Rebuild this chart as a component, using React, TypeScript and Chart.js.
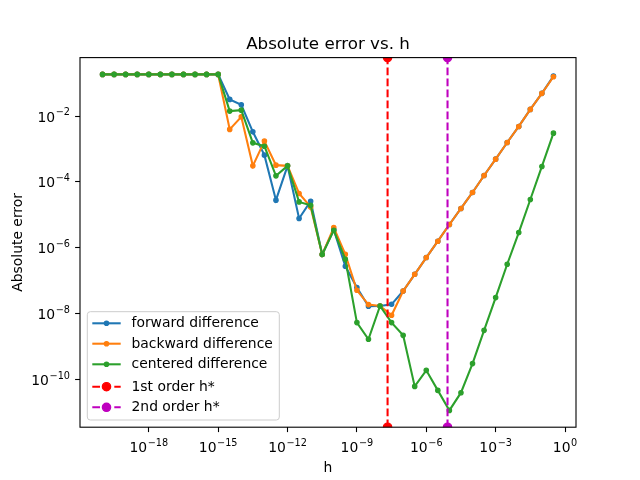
import { useEffect, useRef } from 'react';
import { Chart, registerables } from 'chart.js';

Chart.register(...registerables);

// step sizes h = 10^-20 ... 10^-0.5
const H = [
  1e-20, 3.16e-20, 1e-19, 3.16e-19, 1e-18, 3.16e-18, 1e-17, 3.16e-17, 1e-16, 3.16e-16,
  1e-15, 3.16e-15, 1e-14, 3.16e-14, 1e-13, 3.16e-13, 1e-12, 3.16e-12, 1e-11, 3.16e-11,
  1e-10, 3.16e-10, 1e-9, 3.16e-9, 1e-8, 3.16e-8, 1e-7, 3.16e-7, 1e-6, 3.16e-6,
  1e-5, 3.16e-5, 1e-4, 3.16e-4, 1e-3, 3.16e-3, 1e-2, 3.16e-2, 1e-1, 3.16e-1,
];

const FORWARD = [
  0.185, 0.185, 0.185, 0.185, 0.185, 0.185, 0.185, 0.185, 0.185, 0.185,
  0.185, 3.22e-2, 2.21e-2, 3.33e-3, 6.52e-4, 2.79e-5, 3.08e-4, 7.73e-6, 2.59e-5, 6.21e-7,
  3.55e-6, 2.74e-7, 6.15e-8, 1.66e-8, 1.70e-8, 1.91e-8, 4.85e-8, 1.56e-7, 5.04e-7, 1.58e-6,
  5.08e-6, 1.56e-5, 4.78e-5, 1.57e-4, 4.92e-4, 1.58e-3, 4.86e-3, 1.60e-2, 4.91e-2, 0.165,
];

const BACKWARD = [
  0.185, 0.185, 0.185, 0.185, 0.185, 0.185, 0.185, 0.185, 0.185, 0.185,
  0.185, 3.94e-3, 9.53e-3, 3.08e-4, 1.74e-3, 3.24e-4, 3.08e-4, 4.46e-5, 1.74e-5, 6.21e-7,
  4.11e-6, 6.34e-7, 5.09e-8, 1.87e-8, 1.70e-8, 8.85e-9, 4.85e-8, 1.56e-7, 5.04e-7, 1.58e-6,
  5.08e-6, 1.56e-5, 4.78e-5, 1.57e-4, 4.92e-4, 1.58e-3, 4.86e-3, 1.60e-2, 4.91e-2, 0.157,
];

const CENTERED = [
  0.185, 0.185, 0.185, 0.185, 0.185, 0.185, 0.185, 0.185, 0.185, 0.185,
  0.185, 1.42e-2, 1.52e-2, 1.54e-3, 1.22e-3, 1.53e-4, 3.08e-4, 2.47e-5, 1.96e-5, 6.21e-7,
  3.40e-6, 4.47e-7, 5.31e-9, 1.65e-9, 1.70e-8, 5.31e-9, 2.18e-9, 6.12e-11, 1.88e-10, 4.63e-11,
  1.14e-11, 3.94e-11, 3.01e-10, 3.09e-9, 3.05e-8, 3.15e-7, 2.90e-6, 2.92e-5, 2.95e-4, 3.04e-3,
];

const H_STAR_1 = 2.12e-8;
const H_STAR_2 = 8.3e-6;

const X_MIN = 1.06e-21;
const X_MAX = 2.985;
const Y_MIN = 3.52e-12;
const Y_MAX = 0.6;

const X_TICK_EXP = [-18, -15, -12, -9, -6, -3, 0];
const Y_TICK_EXP = [-2, -4, -6, -8, -10];

const LABELS = [
  'forward difference',
  'backward difference',
  'centered difference',
  '1st order h*',
  '2nd order h*',
];
const COLORS = ['#1f77b4', '#ff7f0e', '#2ca02c', '#ff0000', '#bf00bf'];

const FONT = '"DejaVu Sans", sans-serif';

function expText(e: number): string {
  return e < 0 ? '\u2212' + String(-e) : String(e);
}

function drawPow(ctx: CanvasRenderingContext2D, e: number, x: number, y: number, align: 'center' | 'right') {
  const baseFont = `13.9px ${FONT}`;
  const supFont = `9.7px ${FONT}`;
  const ex = expText(e);
  ctx.font = baseFont;
  const wb = ctx.measureText('10').width;
  ctx.font = supFont;
  const we = ctx.measureText(ex).width;
  const total = wb + we + 0.6;
  const x0 = align === 'center' ? x - total / 2 : x - total;
  ctx.textAlign = 'left';
  ctx.textBaseline = 'alphabetic';
  ctx.font = baseFont;
  ctx.fillText('10', x0, y);
  ctx.font = supFont;
  ctx.fillText(ex, x0 + wb + 0.6, y - 6.3);
}

const decorPlugin = {
  id: 'decor',
  afterDraw(chart: any) {
    const ctx: CanvasRenderingContext2D = chart.ctx;
    const area = chart.chartArea;
    const xs = chart.scales.x;
    const ys = chart.scales.y;
    ctx.save();
    // frame
    ctx.strokeStyle = '#000';
    ctx.lineWidth = 1.1;
    ctx.strokeRect(area.left, area.top, area.right - area.left, area.bottom - area.top);
    ctx.fillStyle = '#000';
    // x tick labels
    X_TICK_EXP.forEach((e) => {
      const px = xs.getPixelForValue(Math.pow(10, e));
      drawPow(ctx, e, px, area.bottom + 25, 'center');
    });
    // y tick labels
    Y_TICK_EXP.forEach((e) => {
      const py = ys.getPixelForValue(Math.pow(10, e));
      drawPow(ctx, e, area.left - 10, py + 5.5, 'right');
    });
    // axis labels
    ctx.font = `13.9px ${FONT}`;
    ctx.textAlign = 'center';
    ctx.textBaseline = 'alphabetic';
    ctx.fillText('h', (area.left + area.right) / 2, 472);
    ctx.save();
    ctx.translate(22, (area.top + area.bottom) / 2);
    ctx.rotate(-Math.PI / 2);
    ctx.fillText('Absolute error', 0, 0);
    ctx.restore();
    // title
    ctx.font = `16.7px ${FONT}`;
    ctx.fillText('Absolute error vs. h', (area.left + area.right) / 2, 49.3);

    // legend
    const lx0 = 87.3, ly0 = 311.7, lx1 = 279.3, ly1 = 420;
    ctx.beginPath();
    (ctx as any).roundRect(lx0, ly0, lx1 - lx0, ly1 - ly0, 3);
    ctx.fillStyle = 'rgba(255,255,255,0.8)';
    ctx.fill();
    ctx.strokeStyle = '#cccccc';
    ctx.lineWidth = 1;
    ctx.stroke();
    const rows = [323.3, 343.7, 364.3, 386.7, 407.3];
    const datasets = chart.data.datasets;
    rows.forEach((ry, i) => {
      const ds = datasets[i];
      const hx0 = 92.3, hx1 = 120.7;
      ctx.save();
      ctx.strokeStyle = ds.borderColor;
      ctx.lineWidth = 2.08;
      ctx.setLineDash(ds.borderDash || []);
      ctx.beginPath();
      ctx.moveTo(hx0, ry);
      ctx.lineTo(hx1, ry);
      ctx.stroke();
      ctx.setLineDash([]);
      ctx.beginPath();
      ctx.arc((hx0 + hx1) / 2, ry, ds.pointRadius, 0, Math.PI * 2);
      ctx.fillStyle = ds.pointBackgroundColor;
      ctx.fill();
      ctx.lineWidth = ds.pointBorderWidth;
      ctx.strokeStyle = ds.pointBorderColor;
      ctx.stroke();
      ctx.restore();
      ctx.fillStyle = '#000';
      ctx.font = `13.9px ${FONT}`;
      ctx.textAlign = 'left';
      ctx.textBaseline = 'middle';
      ctx.fillText(LABELS[i], 131.5, ry + 0.5);
    });
    ctx.restore();
  },
};

export default function App() {
  const ref = useRef<HTMLCanvasElement | null>(null);
  useEffect(() => {
    if (!ref.current) return;
    const series = [FORWARD, BACKWARD, CENTERED];
    const datasets: any[] = series.map((vals, i) => ({
      label: LABELS[i],
      data: H.map((h, k) => ({ x: h, y: vals[k] })),
      borderColor: COLORS[i],
      backgroundColor: COLORS[i],
      pointBackgroundColor: COLORS[i],
      pointBorderColor: COLORS[i],
      borderWidth: 2.08,
      pointRadius: 2.2,
      pointBorderWidth: 1.2,
      tension: 0,
      order: 5 - i,
    }));
    [H_STAR_1, H_STAR_2].forEach((hs, j) => {
      const i = 3 + j;
      datasets.push({
        label: LABELS[i],
        data: [
          { x: hs, y: Y_MIN },
          { x: hs, y: Y_MAX },
        ],
        borderColor: COLORS[i],
        backgroundColor: COLORS[i],
        pointBackgroundColor: COLORS[i],
        pointBorderColor: COLORS[i],
        borderWidth: 2.08,
        borderDash: [7.7, 3.3],
        pointRadius: 4.2,
        pointBorderWidth: 1.2,
        tension: 0,
        clip: 0,
        order: 2 - j,
      });
    });
    const chart = new Chart(ref.current, {
      type: 'line',
      data: { datasets },
      options: {
        animation: false,
        responsive: false,
        devicePixelRatio: 1,
        events: [],
        layout: { padding: { top: 57.6, right: 64, left: 0, bottom: 0 } },
        plugins: { legend: { display: false }, tooltip: { enabled: false }, title: { display: false } },
        scales: {
          x: {
            type: 'logarithmic',
            min: X_MIN,
            max: X_MAX,
            afterBuildTicks: (scale: any) => {
              scale.ticks = X_TICK_EXP.map((e) => ({ value: Math.pow(10, e) }));
            },
            afterFit: (scale: any) => {
              scale.height = 52.8;
            },
            ticks: { display: false },
            border: { display: false },
            grid: {
              display: true,
              drawOnChartArea: false,
              drawTicks: true,
              tickLength: 4.9,
              tickWidth: 1.1,
              tickColor: '#000',
            },
          },
          y: {
            type: 'logarithmic',
            min: Y_MIN,
            max: Y_MAX,
            afterBuildTicks: (scale: any) => {
              scale.ticks = Y_TICK_EXP.map((e) => ({ value: Math.pow(10, e) }));
            },
            afterFit: (scale: any) => {
              scale.width = 80;
            },
            ticks: { display: false },
            border: { display: false },
            grid: {
              display: true,
              drawOnChartArea: false,
              drawTicks: true,
              tickLength: 4.9,
              tickWidth: 1.1,
              tickColor: '#000',
            },
          },
        },
      },
      plugins: [decorPlugin],
    } as any);
    return () => chart.destroy();
  }, []);
  return (
    <div style={{ position: 'fixed', left: 0, top: 0, width: 640, height: 480, background: '#fff' }}>
      <canvas ref={ref} width={640} height={480} style={{ width: 640, height: 480 }} />
    </div>
  );
}
